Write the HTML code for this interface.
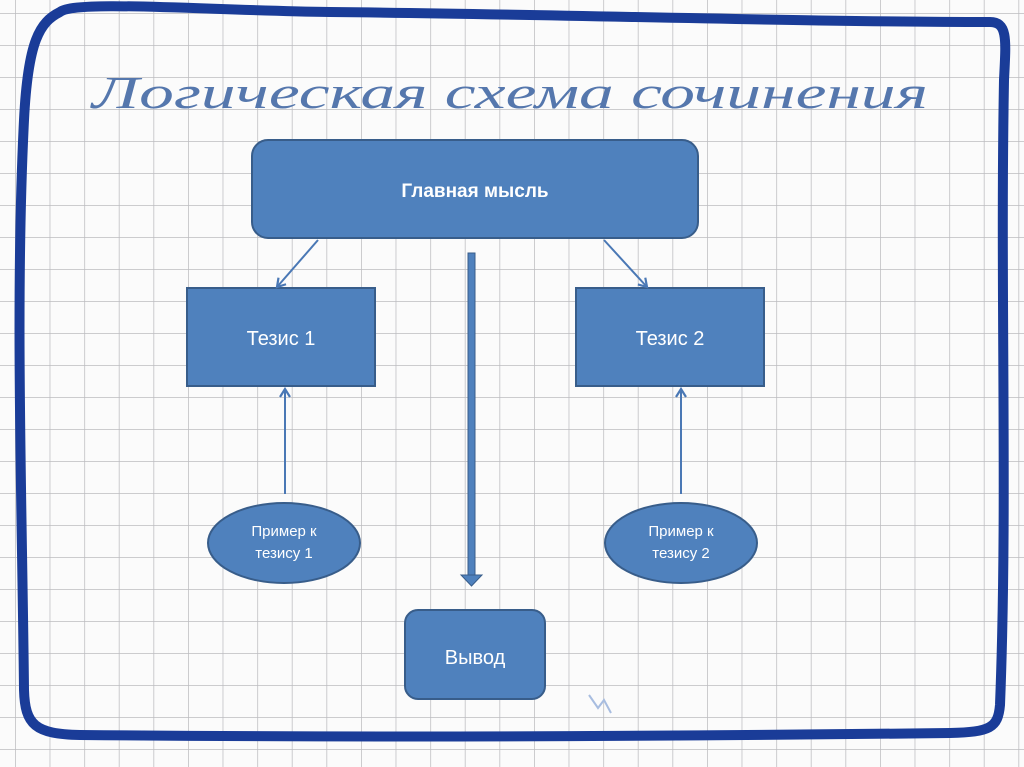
<!DOCTYPE html>
<html><head><meta charset="utf-8"><style>html,body{margin:0;padding:0;background:#fff}svg{display:block}</style></head>
<body>
<svg width="1024" height="767" viewBox="0 0 1024 767" xmlns="http://www.w3.org/2000/svg">
<defs>
<pattern id="g" x="15" y="13" width="34.6" height="32" patternUnits="userSpaceOnUse">
<path d="M0 0V32M0 0H34.6" stroke="#bcbcc0" stroke-width="1.5" fill="none"/>
</pattern>
<marker id="a" markerWidth="12" markerHeight="12" refX="9" refY="6" orient="auto" markerUnits="userSpaceOnUse">
<path d="M1 1L9 6L1 11" fill="none" stroke="#4a78b5" stroke-width="2.2"/>
</marker>
</defs>
<rect width="1024" height="767" fill="#fbfbfb"/>
<rect width="1024" height="767" fill="url(#g)"/>
<path d="M60 12 C75 0 200 10 330 12 C550 14 800 22 990 22 C1008 22 1006 40 1004 80 C1000 300 1008 500 1000 705 C998 728 990 732 950 733 C700 736 400 738 80 735 C35 734 25 725 24 690 C22 500 15 300 24 120 C28 40 40 22 60 12 Z" fill="none" stroke="#1a3c98" stroke-width="10" stroke-linejoin="round"/>
<text x="92" y="108" textLength="836" lengthAdjust="spacingAndGlyphs" font-family="Liberation Serif, serif" font-style="italic" font-size="46" fill="#5577ad">Логическая схема сочинения</text>
<g fill="#4f81bd" stroke="#385d8a" stroke-width="2">
<rect x="252" y="140" width="446" height="98" rx="16"/>
<rect x="187" y="288" width="188" height="98"/>
<rect x="576" y="288" width="188" height="98"/>
<ellipse cx="284" cy="543" rx="76" ry="40"/>
<ellipse cx="681" cy="543" rx="76" ry="40"/>
<rect x="405" y="610" width="140" height="89" rx="13"/>
</g>
<g stroke="#4a78b5" stroke-width="2" fill="none">
<line x1="318" y1="240" x2="277" y2="287" marker-end="url(#a)"/>
<line x1="604" y1="240" x2="647" y2="287" marker-end="url(#a)"/>
<line x1="285" y1="494" x2="285" y2="389" marker-end="url(#a)"/>
<line x1="681" y1="494" x2="681" y2="389" marker-end="url(#a)"/>
</g>
<rect x="468" y="253" width="7" height="322" fill="#4f81bd" stroke="#385d8a" stroke-width="1"/>
<path d="M461 575H482L471.5 586Z" fill="#4f81bd" stroke="#385d8a" stroke-width="1"/>
<g font-family="Liberation Sans, DejaVu Sans, sans-serif" fill="#fff" text-anchor="middle">
<text x="475" y="197" font-size="19" font-weight="bold">Главная мысль</text>
<text x="281" y="345" font-size="20">Тезис 1</text>
<text x="670" y="345" font-size="20">Тезис 2</text>
<text x="284" y="536" font-size="15">Пример к</text>
<text x="284" y="558" font-size="15">тезису 1</text>
<text x="681" y="536" font-size="15">Пример к</text>
<text x="681" y="558" font-size="15">тезису 2</text>
<text x="475" y="664" font-size="20">Вывод</text>
</g>
<path d="M589 695L598 708L604 700L611 713" stroke="#a8bde0" stroke-width="2" fill="none"/>
</svg>
</body></html>
